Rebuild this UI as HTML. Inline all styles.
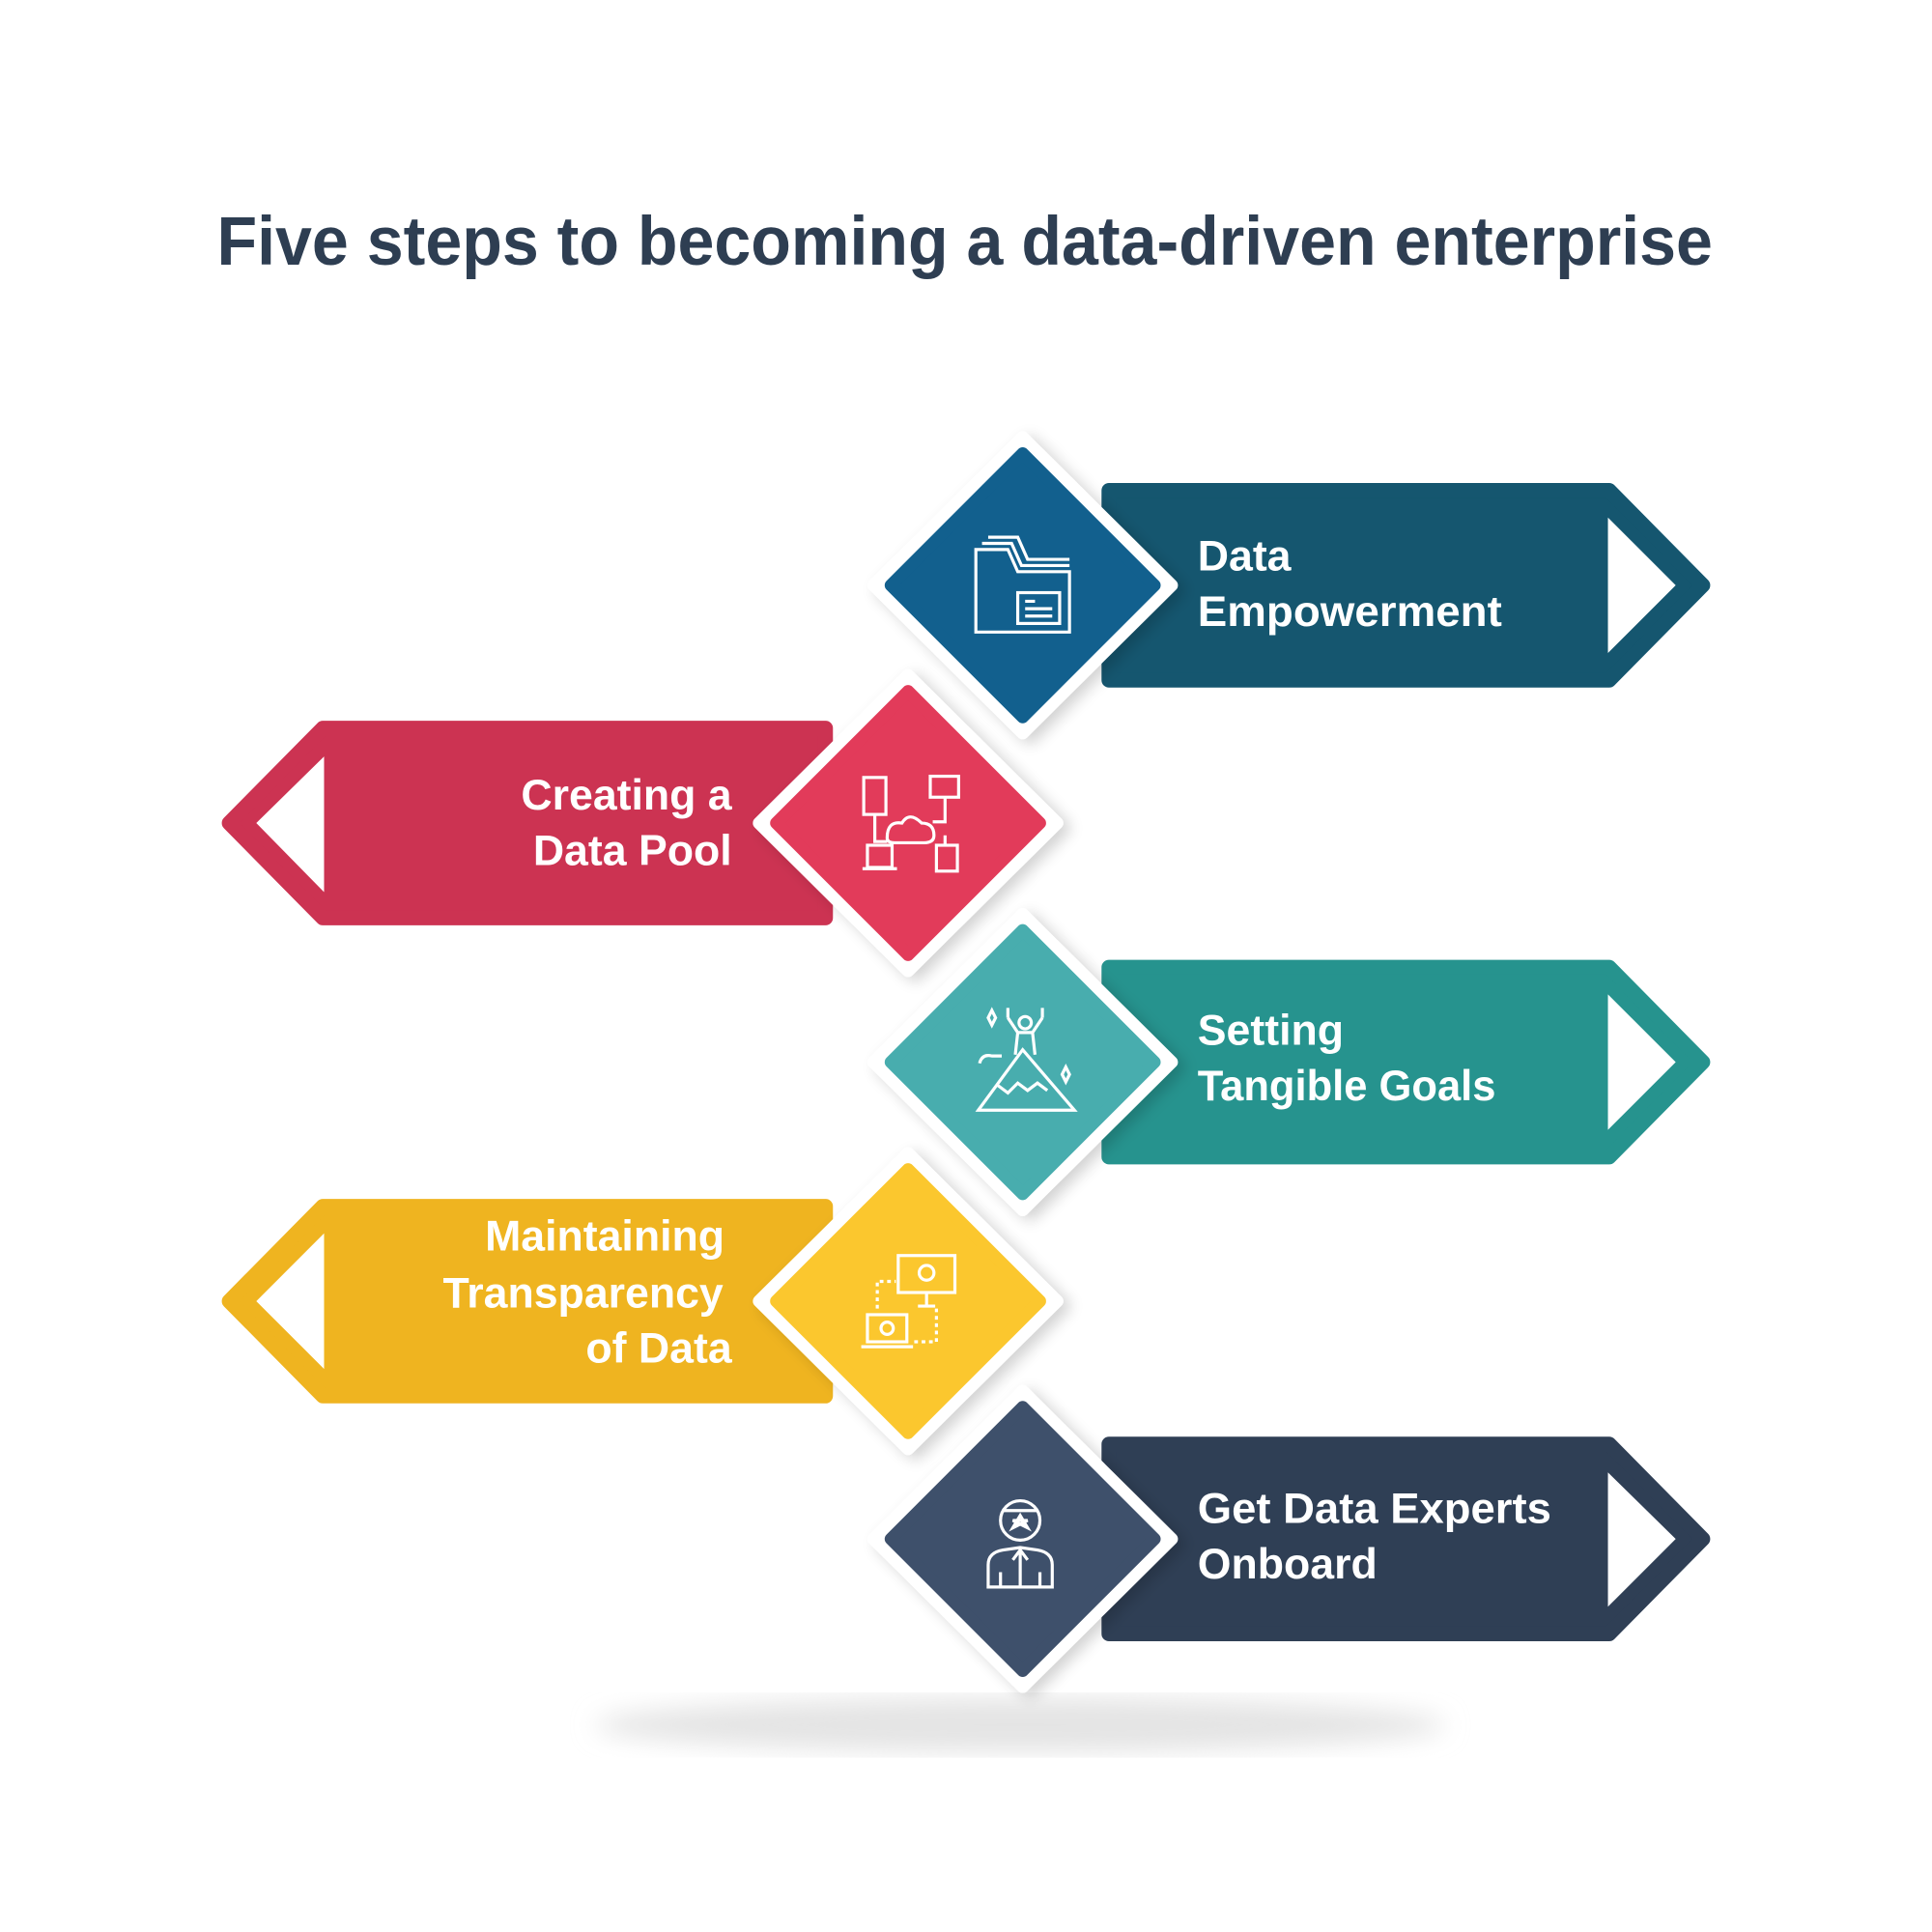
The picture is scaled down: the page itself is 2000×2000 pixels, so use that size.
<!DOCTYPE html>
<html><head><meta charset="utf-8"><style>
html,body{margin:0;padding:0;background:#fff}
svg{display:block}
text{font-family:"Liberation Sans",sans-serif;font-weight:bold;fill:#fff}
</style></head><body>
<svg width="2000" height="2000" viewBox="0 0 1568 1568" xmlns="http://www.w3.org/2000/svg">
<defs>
<filter id="sh" x="-30%" y="-30%" width="160%" height="160%"><feGaussianBlur in="SourceAlpha" stdDeviation="6"/><feOffset dx="6" dy="4"/><feComponentTransfer><feFuncA type="linear" slope="0.18"/></feComponentTransfer><feMerge><feMergeNode/><feMergeNode in="SourceGraphic"/></feMerge></filter>
<filter id="bl"><feGaussianBlur stdDeviation="10"/></filter>
</defs>
<rect width="1568" height="1568" fill="#fff"/>
<text x="176" y="215" font-size="56" style="fill:#2e3e52" textLength="1214" lengthAdjust="spacingAndGlyphs">Five steps to becoming a data-driven enterprise</text>

<ellipse cx="828" cy="1400" rx="345" ry="22" fill="#e4e4e4" filter="url(#bl)"/>

<!-- Row 1 -->
<g stroke-linejoin="round">
<polygon points="900,398 1306,398 1382,475 1306,552 900,552" fill="#15566f" stroke="#15566f" stroke-width="12"/>
<polygon points="1305,420 1360,475 1305,530" fill="#fff"/>
<polygon points="830,355 951,475 830,595 709,475" fill="#fff" stroke="#fff" stroke-width="10" filter="url(#sh)"/>
<polygon points="830,368 937,475 830,582 723,475" fill="#12608e" stroke="#12608e" stroke-width="10"/>
</g>
<g fill="none" stroke="#fff" stroke-width="2.5">
<path d="M792,446 h26 l8,18 h42 v49 h-76 z"/><path d="M797,441 h24 l8,18 h39"/><path d="M802,436 h24 l8,18 h34"/>
<rect x="826" y="481" width="34" height="25"/><path d="M832,488h8M832,494h22M832,500h22"/>
</g>
<text x="972" y="463" font-size="35">Data</text>
<text x="972" y="508" font-size="35" textLength="247" lengthAdjust="spacingAndGlyphs">Empowerment</text>

<!-- Row 2 -->
<g stroke-linejoin="round">
<polygon points="670,591 262,591 186,668 262,745 670,745" fill="#cc3352" stroke="#cc3352" stroke-width="12"/>
<polygon points="263,614 208,668 263,724" fill="#fff"/>
<polygon points="737,548 858,668 737,788 616,668" fill="#fff" stroke="#fff" stroke-width="10" filter="url(#sh)"/>
<polygon points="737,561 844,668 737,775 630,668" fill="#e23b5a" stroke="#e23b5a" stroke-width="10"/>
</g>
<g fill="none" stroke="#fff" stroke-width="2.5">
<rect x="701" y="631" width="18" height="30"/><rect x="755" y="630" width="23" height="17"/>
<path d="M720,680 q0,-14 12,-12 q6,-10 16,0 q10,0 10,10 q0,6 -8,6 h-24 q-6,0 -6,-4z"/>
<path d="M710,661v22h10M767,647v20h-10M767,678v8"/>
<rect x="704" y="686" width="20" height="18"/><path d="M700,705h28"/><rect x="760" y="686" width="17" height="21"/>
</g>
<text x="594" y="657" font-size="35" text-anchor="end">Creating a</text>
<text x="594" y="702" font-size="35" text-anchor="end">Data Pool</text>

<!-- Row 3 -->
<g stroke-linejoin="round">
<polygon points="900,785 1306,785 1382,862 1306,939 900,939" fill="#26938e" stroke="#26938e" stroke-width="12"/>
<polygon points="1305,807 1360,862 1305,917" fill="#fff"/>
<polygon points="830,742 951,862 830,982 709,862" fill="#fff" stroke="#fff" stroke-width="10" filter="url(#sh)"/>
<polygon points="830,755 937,862 830,969 723,862" fill="#48adae" stroke="#48adae" stroke-width="10"/>
</g>
<g fill="none" stroke="#fff" stroke-width="2.5">
<path d="M794,901 L830,852 L872,901 Z"/><path d="M810,881 l8,6 8,-8 8,6 8,-6 8,6"/>
<circle cx="832" cy="830" r="5"/><path d="M818,826 v-8 M846,826 v-8 M818,826 l8,12 h12 l8,-12 M826,838 l-2,18 M838,838 l2,18"/>
<path d="M802,826 l3,-6 3,6 -3,6z M862,872 l3,-6 3,6 -3,6z M795,863 q2,-8 10,-6 h8"/>
</g>
<text x="972" y="848" font-size="35">Setting</text>
<text x="972" y="893" font-size="35" textLength="242" lengthAdjust="spacingAndGlyphs">Tangible Goals</text>

<!-- Row 4 -->
<g stroke-linejoin="round">
<polygon points="670,979 262,979 186,1056 262,1133 670,1133" fill="#efb420" stroke="#efb420" stroke-width="12"/>
<polygon points="263,1001 208,1056 263,1111" fill="#fff"/>
<polygon points="737,936 858,1056 737,1176 616,1056" fill="#fff" stroke="#fff" stroke-width="10" filter="url(#sh)"/>
<polygon points="737,949 844,1056 737,1163 630,1056" fill="#fbc72e" stroke="#fbc72e" stroke-width="10"/>
</g>
<g fill="none" stroke="#fff" stroke-width="2.5">
<rect x="729" y="1019" width="46" height="30"/><path d="M745,1060h14M752,1049v11"/><circle cx="752" cy="1033" r="6"/>
<rect x="704" y="1067" width="32" height="22"/><path d="M699,1093h42"/><circle cx="720" cy="1078" r="5"/>
<path d="M712,1062v-22h15M742,1089h18v-30" stroke-dasharray="3,3"/>
</g>
<text x="588" y="1015" font-size="35" text-anchor="end">Maintaining</text>
<text x="587" y="1061" font-size="35" text-anchor="end">Transparency</text>
<text x="594" y="1106" font-size="35" text-anchor="end">of Data</text>

<!-- Row 5 -->
<g stroke-linejoin="round">
<polygon points="900,1172 1306,1172 1382,1249 1306,1326 900,1326" fill="#2f3f55" stroke="#2f3f55" stroke-width="12"/>
<polygon points="1305,1195 1360,1249 1305,1304" fill="#fff"/>
<polygon points="830,1129 951,1249 830,1369 709,1249" fill="#fff" stroke="#fff" stroke-width="10" filter="url(#sh)"/>
<polygon points="830,1142 937,1249 830,1356 723,1249" fill="#3e506b" stroke="#3e506b" stroke-width="10"/>
</g>
<g fill="none" stroke="#fff" stroke-width="2.5">
<circle cx="828" cy="1234" r="16"/><path d="M814,1226h28"/><path d="M822,1240 l6,-10 6,10 -12,-6 h12z"/>
<path d="M802,1288 v-18 q0,-10 12,-12 l14,-2 14,2 q12,2 12,12 v18 z"/><path d="M828,1258 v30 M822,1266 l6,-8 6,8 M812,1276v12M844,1276v12"/>
</g>
<text x="972" y="1236" font-size="35" textLength="287" lengthAdjust="spacingAndGlyphs">Get Data Experts</text>
<text x="972" y="1281" font-size="35">Onboard</text>
</svg>
</body></html>
